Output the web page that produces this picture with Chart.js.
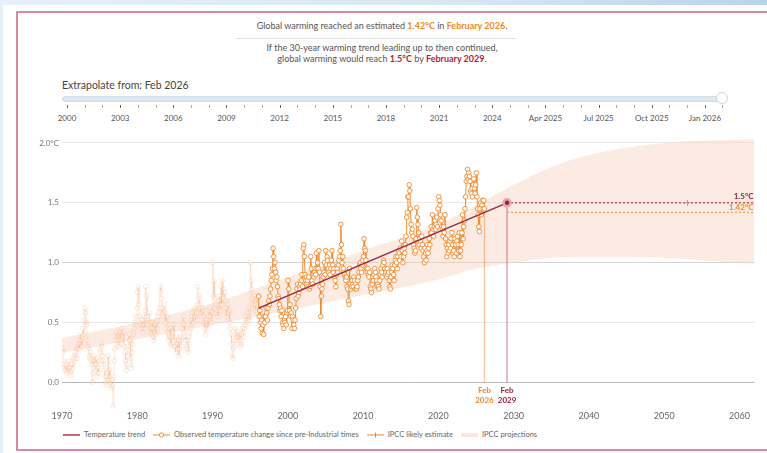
<!DOCTYPE html>
<html>
<head>
<meta charset="utf-8">
<script src="https://cdn.jsdelivr.net/npm/chart.js@4.4.1/dist/chart.umd.min.js"></script>
<style>
  body { margin: 0; width: 767px; height: 453px; overflow: hidden; position: relative; font-family: Lato, sans-serif;
         background: linear-gradient(90deg, #e7f0f8 0%, #d8e6f2 60%, #b9d4e9 100%); }
  .panel { position: absolute; left: 3px; top: 5px; right: 0; bottom: 0; background: #fff; }
  .frame { position: absolute; left: 16px; top: 11px; width: 790px; height: 440px; border: 2px solid #d98a9b; box-sizing: border-box; }
  .head { position: absolute; left: 0; width: 764px; text-align: center; font-size: 9px; line-height: 11px; color: #555; }
  .or { color: #f08a24; font-weight: bold; }
  .rd { color: #b0233f; font-weight: bold; }
  .sep { position: absolute; left: 236px; top: 38px; width: 280px; height: 1px; background: #e2e2e2; }
  .slabel { position: absolute; left: 62px; top: 79px; font-size: 10.5px; color: #444; }
  .track { position: absolute; left: 62px; top: 96px; width: 662px; height: 4px; background: #dde7ef; border: 1px solid #d0dce6; border-radius: 3px; }
  .handle { position: absolute; left: 716px; top: 92px; width: 12px; height: 12px; border-radius: 50%; background: #fff; border: 1px solid #cbd5de; box-sizing: border-box; }
  .stick { position: absolute; top: 105px; width: 1px; height: 3px; background: #aaa; }
  .stxt { position: absolute; top: 113px; width: 60px; margin-left: -30px; text-align: center; font-size: 8px; color: #555; }
  #wrap { position: absolute; left: 16px; top: 128px; width: 745px; height: 295px; }
  .legend { position: absolute; left: 63px; top: 430px; display: flex; align-items: center; font-size: 7.5px; color: #666; white-space: nowrap; }
  .legend .it { display: flex; align-items: center; margin-right: 8px; }
  .legend svg { margin-right: 4px; }
</style>
</head>
<body>
<div class="panel"></div>
<div class="frame"></div>

<div class="head" style="top:20px">Global warming reached an estimated <span class="or">1.42°C</span> in <span class="or">February 2026</span>.</div>
<div class="sep"></div>
<div class="head" style="top:42px">If the 30-year warming trend leading up to then continued,</div>
<div class="head" style="top:53px">global warming would reach <span class="rd">1.5°C</span> by <span class="rd">February 2029</span>.</div>

<div class="slabel">Extrapolate from: Feb 2026</div>
<div class="track"></div>
<div id="sticks"></div>
<div class="handle"></div>

<div id="wrap"><canvas id="chart" width="745" height="295"></canvas></div>

<div class="legend">
  <div class="it"><svg width="17" height="6"><line x1="0" y1="3" x2="17" y2="3" stroke="#b8314e" stroke-width="1.5"/></svg>Temperature trend</div>
  <div class="it"><svg width="17" height="6"><line x1="0" y1="3" x2="17" y2="3" stroke="#f0892e" stroke-width="1"/><circle cx="8.5" cy="3" r="2.2" fill="#fff" stroke="#f0892e" stroke-width="0.9"/></svg>Observed temperature change since pre-Industrial times</div>
  <div class="it"><svg width="17" height="6"><line x1="0" y1="3" x2="17" y2="3" stroke="#f0892e" stroke-width="1"/><line x1="8.5" y1="0.5" x2="8.5" y2="5.5" stroke="#f0892e" stroke-width="1"/></svg>IPCC likely estimate</div>
  <div class="it"><svg width="17" height="6"><rect x="0" y="1" width="17" height="4" fill="#fce6dc"/></svg>IPCC projections</div>
</div>

<script>
// slider labels (every third tick is labelled)
const sliderLabels = ['2000', '2003', '2006', '2009', '2012', '2015', '2018', '2021', '2024', 'Apr 2025', 'Jul 2025', 'Oct 2025', 'Jan 2026'];

// axis ticks
const xTicks = [1970, 1980, 1990, 2000, 2010, 2020, 2030, 2040, 2050, 2060];
const yTicks = [0, 0.5, 1, 1.5, 2];

// observed monthly temperature change (°C vs pre-industrial), Jan 1970 .. Feb 2026
const observedStartYear = 1970;
const observed = [
  0.28,0.25,0.18,0.15,0.12,0.10,0.14,0.08,0.12,0.10,0.18,0.12, // 1970
  0.12,0.08,0.06,0.10,0.15,0.12,0.20,0.18,0.22,0.25,0.20,0.28, // 1971
  0.30,0.28,0.35,0.32,0.28,0.40,0.35,0.30,0.38,0.45,0.40,0.52, // 1972
  0.62,0.58,0.50,0.48,0.35,0.30,0.28,0.22,0.20,0.25,0.18,0.15, // 1973
  0.00,0.08,0.18,0.22,0.15,0.10,0.15,0.20,0.05,0.12,0.08,0.18, // 1974
  0.25,0.28,0.32,0.30,0.22,0.18,0.15,0.10,0.05,0.00,-0.02,0.05, // 1975
  0.08,0.22,0.02,0.10,0.05,0.00,-0.05,0.02,-0.03,-0.20,0.05,0.18, // 1976
  0.28,0.35,0.42,0.38,0.40,0.35,0.30,0.38,0.42,0.36,0.40,0.45, // 1977
  0.38,0.32,0.42,0.30,0.25,0.18,0.10,0.15,0.22,0.30,0.35,0.40, // 1978
  0.35,0.20,0.12,0.25,0.32,0.40,0.42,0.45,0.50,0.48,0.55,0.62, // 1979
  0.75,0.80,0.65,0.55,0.50,0.48,0.45,0.52,0.42,0.48,0.55,0.45, // 1980
  0.60,0.80,0.72,0.55,0.48,0.52,0.50,0.58,0.42,0.45,0.40,0.50, // 1981
  0.45,0.38,0.35,0.42,0.48,0.40,0.50,0.45,0.52,0.55,0.58,0.62, // 1982
  0.80,0.75,0.70,0.62,0.58,0.55,0.60,0.65,0.58,0.50,0.55,0.45, // 1983
  0.42,0.35,0.40,0.38,0.45,0.32,0.30,0.38,0.42,0.48,0.35,0.30, // 1984
  0.30,0.25,0.38,0.32,0.28,0.35,0.22,0.28,0.38,0.35,0.30,0.45, // 1985
  0.50,0.55,0.48,0.42,0.38,0.35,0.30,0.28,0.35,0.25,0.38,0.42, // 1986
  0.45,0.52,0.48,0.55,0.58,0.50,0.62,0.60,0.55,0.52,0.58,0.65, // 1987
  0.80,0.72,0.70,0.65,0.62,0.58,0.55,0.62,0.60,0.55,0.50,0.45, // 1988
  0.40,0.50,0.48,0.52,0.45,0.55,0.60,0.62,0.55,0.60,0.50,0.58, // 1989
  1.00,0.72,0.85,0.70,0.62,0.65,0.58,0.60,0.55,0.68,0.72,0.65, // 1990
  0.60,0.80,0.65,0.85,0.72,0.78,0.70,0.75,0.68,0.62,0.55,0.58, // 1991
  0.65,0.58,0.60,0.50,0.45,0.40,0.32,0.22,0.20,0.28,0.30,0.35, // 1992
  0.45,0.40,0.38,0.35,0.42,0.38,0.40,0.35,0.30,0.32,0.40,0.45, // 1993
  0.42,0.38,0.45,0.50,0.48,0.55,0.52,0.50,0.58,0.62,0.55,0.52, // 1994
  1.00,0.85,0.78,0.70,0.62,0.65,0.72,0.68,0.60,0.65,0.70,0.58, // 1995
  0.62,0.72,0.55,0.60,0.50,0.45,0.52,0.41,0.48,0.40,0.55,0.50, // 1996
  0.55,0.62,0.58,0.52,0.62,0.68,0.65,0.72,0.78,0.85,0.90,0.95, // 1997
  1.12,1.05,0.95,1.00,0.92,0.85,0.88,0.80,0.72,0.70,0.65,0.60, // 1998
  0.62,0.55,0.60,0.50,0.48,0.45,0.52,0.50,0.55,0.48,0.58,0.60, // 1999
  0.85,0.78,0.60,0.65,0.55,0.58,0.45,0.55,0.52,0.48,0.45,0.52, // 2000
  0.62,0.70,0.78,0.82,0.72,0.75,0.80,0.78,0.82,0.85,0.90,0.80, // 2001
  1.12,1.15,1.05,0.90,0.85,0.88,0.82,0.85,0.80,0.88,0.78,0.80, // 2002
  1.05,0.95,0.85,0.82,0.90,0.88,0.92,0.95,0.90,1.08,0.95,1.00, // 2003
  0.95,1.10,0.92,0.80,0.55,0.72,0.78,0.82,0.88,0.92,1.00,0.90, // 2004
  1.10,0.98,1.05,1.02,0.95,0.92,0.98,0.90,0.95,1.02,1.10,0.98, // 2005
  0.92,0.95,0.88,0.85,0.80,0.90,0.95,0.92,0.98,1.02,1.05,1.10, // 2006
  1.32,1.15,1.00,1.05,0.95,0.92,0.90,0.88,0.85,0.88,0.80,0.78, // 2007
  0.68,0.65,0.95,0.82,0.78,0.80,0.85,0.82,0.80,0.88,0.85,0.78, // 2008
  0.82,0.78,0.80,0.85,0.88,0.92,0.98,1.00,0.95,0.92,0.98,1.02, // 2009
  1.05,1.20,1.12,1.10,1.02,0.95,0.92,0.95,0.90,0.88,0.92,0.80, // 2010
  0.78,0.75,0.82,0.88,0.85,0.90,0.95,0.92,0.88,0.85,0.80,0.82, // 2011
  0.80,0.78,0.85,0.90,0.95,0.92,0.88,0.98,1.02,1.00,0.95,0.90, // 2012
  0.92,0.88,0.95,0.90,0.92,0.85,0.80,0.78,0.88,0.92,0.98,0.95, // 2013
  0.90,0.85,0.98,1.02,1.05,1.00,0.95,1.05,1.10,1.08,1.02,1.12, // 2014
  1.05,1.18,1.10,1.00,1.05,1.12,1.08,1.15,1.22,1.38,1.42,1.55, // 2015
  1.55,1.65,1.60,1.45,1.32,1.25,1.28,1.22,1.15,1.12,1.08,1.10, // 2016
  1.20,1.46,1.38,1.32,1.25,1.15,1.20,1.18,1.12,1.22,1.15,1.10, // 2017
  1.05,1.00,1.12,1.08,1.02,1.10,1.15,1.08,1.12,1.20,1.15,1.25, // 2018
  1.30,1.25,1.40,1.28,1.22,1.30,1.35,1.28,1.32,1.38,1.30,1.45, // 2019
  1.55,1.52,1.48,1.40,1.35,1.30,1.28,1.22,1.30,1.25,1.40,1.20, // 2020
  1.15,1.05,1.12,1.08,1.15,1.10,1.18,1.12,1.20,1.25,1.15,1.08, // 2021
  1.10,1.05,1.20,1.15,1.08,1.18,1.22,1.15,1.10,1.25,1.05,1.10, // 2022
  1.15,1.25,1.40,1.20,1.30,1.35,1.45,1.55,1.68,1.72,1.78,1.70, // 2023
  1.75,1.72,1.68,1.60,1.58,1.62,1.55,1.65,1.70,1.62,1.58,1.65, // 2024
  1.75,1.55,1.45,1.40,1.30,1.26,1.45,1.50,1.40,1.48,1.52,1.45, // 2025
  1.52,1.45                                                    // 2026
];
const windowStart = 1996 + 1 / 12; // Feb 1996, start of the 30-year window

// 30-year temperature trend, Feb 1996 -> Feb 2029
const trendDates = [1996.125, 2029.125];
const trendValues = [0.62, 1.50];

// current estimate and crossing
const estimateDate = 2026.125, estimateValue = 1.42;
const crossDate = 2029.125, crossValue = 1.5;
const ipccLikelyDate = 2053.1;

// IPCC projections band
const bandYears = [1970, 1980, 1990, 2000, 2010, 2020, 2025, 2030, 2035, 2040, 2045, 2050, 2055, 2062];
const bandLow   = [0.25, 0.36, 0.48, 0.60, 0.73, 0.86, 0.95, 1.00, 1.04, 1.05, 1.05, 1.04, 1.02, 0.99];
const bandHigh  = [0.37, 0.50, 0.66, 0.88, 1.10, 1.32, 1.48, 1.65, 1.80, 1.90, 1.96, 2.00, 2.02, 2.03];

// slider ticks
(function () {
  const box = document.getElementById('sticks');
  const x0 = 67, step = 17.72;
  for (let i = 0; i <= 37; i++) {
    const x = i === 37 ? 722 : x0 + i * step;
    const t = document.createElement('div');
    t.className = 'stick';
    t.style.left = x + 'px';
    if (i % 3 === 0) t.style.background = '#666';
    box.appendChild(t);
    if (i % 3 === 0 && i / 3 < sliderLabels.length) {
      const l = document.createElement('div');
      l.className = 'stxt';
      l.style.left = x + 'px';
      l.textContent = sliderLabels[i / 3];
      box.appendChild(l);
    }
  }
})();

const obsPoints = observed.map((v, i) => ({ x: observedStartYear + (i + 0.5) / 12, y: v }));
const splitIdx = Math.round((windowStart - observedStartYear) * 12);
const oldPoints = obsPoints.slice(0, splitIdx + 1);
const recentPoints = obsPoints.slice(splitIdx);

const ORANGE = '#f0892e';
const RED = '#a0203c';

const labelPlugin = {
  id: 'labels',
  afterDatasetsDraw(chart) {
    const { ctx, scales: { x, y }, chartArea } = chart;
    ctx.save();
    ctx.textAlign = 'center';
    ctx.textBaseline = 'middle';
    ctx.font = 'bold 8px Lato';
    const y0 = y.getPixelForValue(0);
    ctx.fillStyle = ORANGE;
    ctx.fillText('Feb', x.getPixelForValue(estimateDate), y0 + 8);
    ctx.fillText('2026', x.getPixelForValue(estimateDate), y0 + 18);
    ctx.fillStyle = RED;
    ctx.fillText('Feb', x.getPixelForValue(crossDate), y0 + 8);
    ctx.fillText('2029', x.getPixelForValue(crossDate), y0 + 18);
    ctx.textAlign = 'right';
    ctx.fillText('1.5°C', chartArea.right - 1, y.getPixelForValue(crossValue) - 6);
    ctx.fillStyle = ORANGE;
    ctx.fillText('1.42°C', chartArea.right - 1, y.getPixelForValue(estimateValue) - 5);
    ctx.restore();
  }
};

new Chart(document.getElementById('chart'), {
  type: 'line',
  data: {
    datasets: [
      { data: [{ x: crossDate, y: crossValue }], showLine: false, pointRadius: 3.5, pointBorderWidth: 2.5,
        pointBackgroundColor: RED, pointBorderColor: '#e6a6b3' },
      { data: trendDates.map((d, i) => ({ x: d, y: trendValues[i] })), borderColor: '#9c2545', borderWidth: 1.4, pointRadius: 0 },
      { data: recentPoints, borderColor: ORANGE, borderWidth: 1, pointRadius: 2.3, pointBorderWidth: 0.9,
        pointBackgroundColor: '#fff', pointBorderColor: ORANGE },
      { data: [{ x: ipccLikelyDate, y: crossValue }], showLine: false, pointStyle: 'cross', pointRadius: 3,
        pointBorderColor: '#d68a8a', pointBorderWidth: 1 },
      { data: [{ x: crossDate, y: crossValue }, { x: 2062, y: crossValue }], borderColor: '#b8314e', borderWidth: 1.2,
        borderDash: [2, 2], pointRadius: 0 },
      { data: [{ x: crossDate, y: estimateValue }, { x: 2062, y: estimateValue }], borderColor: '#f39a4a', borderWidth: 1.2,
        borderDash: [2, 2], pointRadius: 0 },
      { data: [{ x: crossDate, y: 0 }, { x: crossDate, y: crossValue }], borderColor: 'rgba(160,40,75,0.5)', borderWidth: 1.2, pointRadius: 0 },
      { data: [{ x: estimateDate, y: 0 }, { x: estimateDate, y: estimateValue }], borderColor: 'rgba(240,140,70,0.55)', borderWidth: 1.2, pointRadius: 0 },
      { data: oldPoints, borderColor: 'rgba(242,150,90,0.2)', borderWidth: 1, pointRadius: 2.3, pointBorderWidth: 0.8,
        pointBackgroundColor: 'rgba(255,255,255,0.3)', pointBorderColor: 'rgba(242,150,90,0.28)' },
      { data: bandYears.map((d, i) => ({ x: d, y: bandLow[i] })), borderWidth: 0, pointRadius: 0, fill: false,
        tension: 0.4, cubicInterpolationMode: 'monotone' },
      { data: bandYears.map((d, i) => ({ x: d, y: bandHigh[i] })), borderWidth: 0, pointRadius: 0, fill: '-1',
        backgroundColor: 'rgba(249,210,190,0.45)', tension: 0.4, cubicInterpolationMode: 'monotone' }
    ]
  },
  options: {
    responsive: false,
    animation: false,
    layout: { padding: { top: 4.7, right: 6, left: 0, bottom: 0 } },
    plugins: { legend: { display: false }, tooltip: { enabled: false } },
    scales: {
      x: {
        type: 'linear', min: 1970, max: 2062,
        afterBuildTicks: s => { s.ticks = xTicks.map(v => ({ value: v })); },
        afterFit: s => { s.height = 14.4; },
        grid: { display: false, drawTicks: false }, border: { display: false },
        ticks: { color: '#666', font: { family: 'Lato', size: 9 }, padding: 2, maxRotation: 0, autoSkip: false,
                 callback: v => String(v) }
      },
      y: {
        min: -0.22, max: 2.06,
        afterBuildTicks: s => { s.ticks = yTicks.map(v => ({ value: v })); },
        afterFit: s => { s.width = 46; },
        grid: { color: c => c.tick && c.tick.value === 0 ? '#b8b8b8' : (c.tick && c.tick.value === 1 ? '#d4d4d4' : '#e8e8e8'),
                drawTicks: false, lineWidth: 1 },
        border: { display: false },
        ticks: { color: '#777', font: { family: 'Lato', size: 8 }, padding: 3,
                 callback: v => v === 2 ? '2.0°C' : v.toFixed(1) }
      }
    }
  },
  plugins: [labelPlugin]
});
</script>
</body>
</html>
